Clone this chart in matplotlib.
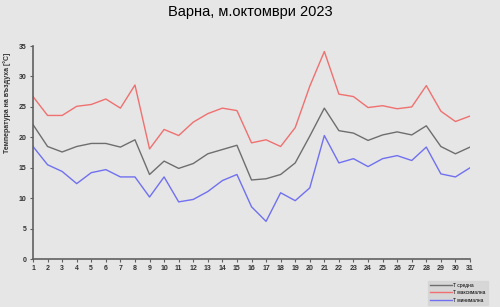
import numpy as np
import matplotlib
matplotlib.use('Agg')
import matplotlib.pyplot as plt

plt.rcParams['font.family'] = ['Liberation Sans', 'DejaVu Sans']

days = list(range(1, 32))
t_max = [26.7, 23.6, 23.6, 25.1, 25.4, 26.3, 24.8, 28.6, 18.1, 21.3,
         20.3, 22.5, 23.9, 24.8, 24.4, 19.1, 19.6, 18.5, 21.6, 28.4,
         34.1, 27.1, 26.7, 24.9, 25.2, 24.7, 25.0, 28.5, 24.3, 22.6, 23.5]
t_mean = [22.1, 18.5, 17.6, 18.5, 19.0, 19.0, 18.4, 19.6, 13.9, 16.1,
          14.9, 15.7, 17.3, 18.0, 18.7, 13.0, 13.2, 13.9, 15.8, 20.2,
          24.8, 21.1, 20.7, 19.5, 20.4, 20.9, 20.4, 21.9, 18.5, 17.3, 18.4]
t_min = [18.5, 15.5, 14.4, 12.4, 14.2, 14.7, 13.5, 13.5, 10.2, 13.5,
         9.4, 9.8, 11.1, 12.9, 13.9, 8.6, 6.2, 10.9, 9.6, 11.7,
         20.3, 15.8, 16.5, 15.2, 16.5, 17.0, 16.2, 18.4, 14.0, 13.5, 15.0]
labels = ['T средна', 'T максимална', 'T минимална']

bg = '#e6e6e6'
fig = plt.figure(figsize=(5, 3.07), dpi=100, facecolor=bg)
ax = fig.add_axes([0.066, 0.156, 0.874, 0.694], facecolor=bg)

ax.plot(days, t_mean, color='#6e6e6e', lw=1.0, label=labels[0])
ax.plot(days, t_max, color='#f07070', lw=1.0, label=labels[1])
ax.plot(days, t_min, color='#7070f0', lw=1.0, label=labels[2])

ax.set_xlim(1, 31)
ax.set_ylim(0, 35)
ax.set_xticks(days)
ax.set_yticks(range(0, 36, 5))
for s in ['top', 'right']:
    ax.spines[s].set_visible(False)
for s in ['left', 'bottom']:
    ax.spines[s].set_color('#606060')
    ax.spines[s].set_linewidth(1.2)
ax.tick_params(length=2.5, width=0.8, color='#606060', labelsize=5,
               labelcolor='#333333', pad=2)
for lab in ax.get_xticklabels() + ax.get_yticklabels():
    lab.set_fontweight('bold')

# y label sits higher than the axes centre in the original
fig.text(0.015, 0.665, 'Температура на въздуха [°C]', rotation=90,
         fontsize=5, fontweight='bold', color='#333333',
         ha='center', va='center')
fig.suptitle('Варна, м.октомври 2023', fontsize=10.5, x=0.5, y=0.985)

leg = fig.legend(loc='lower right', bbox_to_anchor=(0.98, 0.0), fontsize=3.5,
                 frameon=True, facecolor='#d4d4d4', edgecolor='#d4d4d4',
                 fancybox=False, handlelength=4.5, borderpad=0.4,
                 labelspacing=0.5, handletextpad=0.3)
for line in leg.get_lines():
    line.set_linewidth(1.0)

fig.savefig('out.png', dpi=100, facecolor=bg)
